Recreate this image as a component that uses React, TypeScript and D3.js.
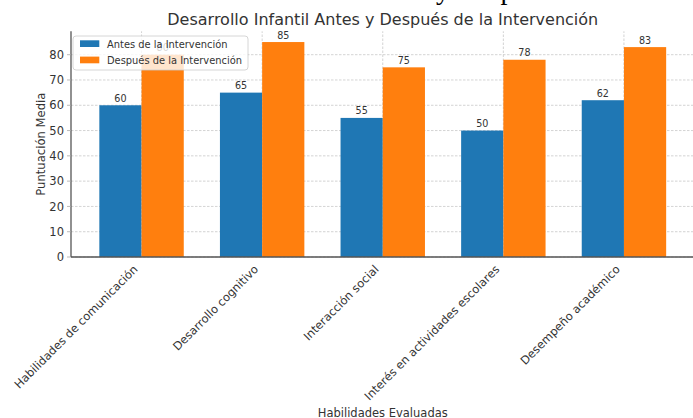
import React from "react";
import * as d3 from "d3";

const categories = [
  "Habilidades de comunicación",
  "Desarrollo cognitivo",
  "Interacción social",
  "Interés en actividades escolares",
  "Desempeño académico",
];
const antes = [60, 65, 55, 50, 62];
const despues = [80, 85, 75, 78, 83];
const yTicks = [0, 10, 20, 30, 40, 50, 60, 70, 80];
const seriesNames = ["Antes de la Intervención", "Después de la Intervención"];
const colors = ["#1f77b4", "#ff7f0e"];

const W = 693;
const H = 418;
const FONT = "'DejaVu Sans', sans-serif";
const TEXT = "#333333";

export default function App() {
  const x = d3.scaleLinear().domain([-0.585, 4.585]).range([71, 694.5]);
  const yMax = d3.max(despues)! * 1.05;
  const y = d3.scaleLinear().domain([0, yMax]).range([257, 31.3]);
  const bw = 0.35;
  const series = [antes, despues];

  return (
    <svg
      width={W}
      height={H}
      style={{ position: "absolute", left: 0, top: 0, background: "#fff" }}
      fontFamily={FONT}
    >
      <rect x={0} y={0} width={W} height={H} fill="#fff" />
      {/* cut-off serif heading above */}
      <text x={432} y={-1.5} textAnchor="end" fontFamily="'Liberation Serif', serif" fontSize={28} fill="#000">
        Desarrollo Infantil Antes
      </text>
      <text x={436} y={-1.5} fontFamily="'Liberation Serif', serif" fontSize={28} fill="#000">
        y Después de la Intervención
      </text>

      {/* grid */}
      {yTicks.map((t) => (
        <line key={"gy" + t} x1={x(-0.585)} x2={x(4.585)} y1={y(t)} y2={y(t)} stroke="#c8c8c8" strokeWidth={0.8} strokeDasharray="2.5,1.5" />
      ))}
      {categories.map((c, i) => (
        <line key={"gx" + i} x1={x(i)} x2={x(i)} y1={y(0)} y2={y(yMax)} stroke="#c8c8c8" strokeWidth={0.8} strokeDasharray="2.5,1.5" />
      ))}

      {/* bars */}
      {series.map((s, si) =>
        s.map((v, i) => {
          const x0 = x(i - bw + si * bw);
          const x1 = x(i + si * bw);
          return (
            <rect key={"b" + si + "-" + i} x={x0} y={y(v)} width={x1 - x0} height={y(0) - y(v)} fill={colors[si]} />
          );
        })
      )}

      {/* value labels */}
      {series.map((s, si) =>
        s.map((v, i) => (
          <text key={"v" + si + "-" + i} x={x(i - bw / 2 + si * bw)} y={y(v) - 3.5} textAnchor="middle" fontSize={9.6} fill={TEXT}>
            {v}
          </text>
        ))
      )}

      {/* spines */}
      <line x1={x(-0.585)} x2={x(-0.585)} y1={y(0)} y2={y(yMax)} stroke="#555" strokeWidth={1.3} />
      <line x1={x(-0.585)} x2={x(4.585)} y1={y(0)} y2={y(0)} stroke="#555" strokeWidth={1.3} />

      {/* y ticks */}
      {yTicks.map((t) => (
        <g key={"yt" + t}>
          <line x1={x(-0.585) - 4} x2={x(-0.585)} y1={y(t)} y2={y(t)} stroke="#aaa" strokeWidth={0.8} />
          <text x={64} y={y(t)} dy="0.36em" textAnchor="end" fontSize={11.5} fill={TEXT}>
            {t}
          </text>
        </g>
      ))}

      {/* x tick labels */}
      {categories.map((c, i) => (
        <text
          key={"xt" + i}
          transform={`translate(${x(i) - 3.2},${270}) rotate(-45)`}
          textAnchor="end"
          fontSize={11.5}
          fill={TEXT}
        >
          {c}
        </text>
      ))}

      {/* axis labels */}
      <text x={(x(-0.585) + x(4.585)) / 2} y={417} textAnchor="middle" fontSize={11.5} fill={TEXT}>
        Habilidades Evaluadas
      </text>
      <text transform={`translate(45,${(y(0) + y(yMax)) / 2}) rotate(-90)`} textAnchor="middle" fontSize={11.6} fill={TEXT}>
        Puntuación Media
      </text>

      {/* title */}
      <text x={(x(-0.585) + x(4.585)) / 2} y={25} textAnchor="middle" fontSize={16} fill={TEXT}>
        Desarrollo Infantil Antes y Después de la Intervención
      </text>

      {/* legend */}
      <rect x={73} y={36} width={175} height={34} rx={3} fill="#fff" fillOpacity={0.8} stroke="#cccccc" strokeWidth={0.8} />
      {seriesNames.map((n, si) => (
        <g key={"lg" + si}>
          <rect x={80} y={40.3 + si * 16.3} width={19.3} height={6.7} fill={colors[si]} />
          <text x={107} y={47.5 + si * 16.3} fontSize={9.9} fill={TEXT}>
            {n}
          </text>
        </g>
      ))}
    </svg>
  );
}
